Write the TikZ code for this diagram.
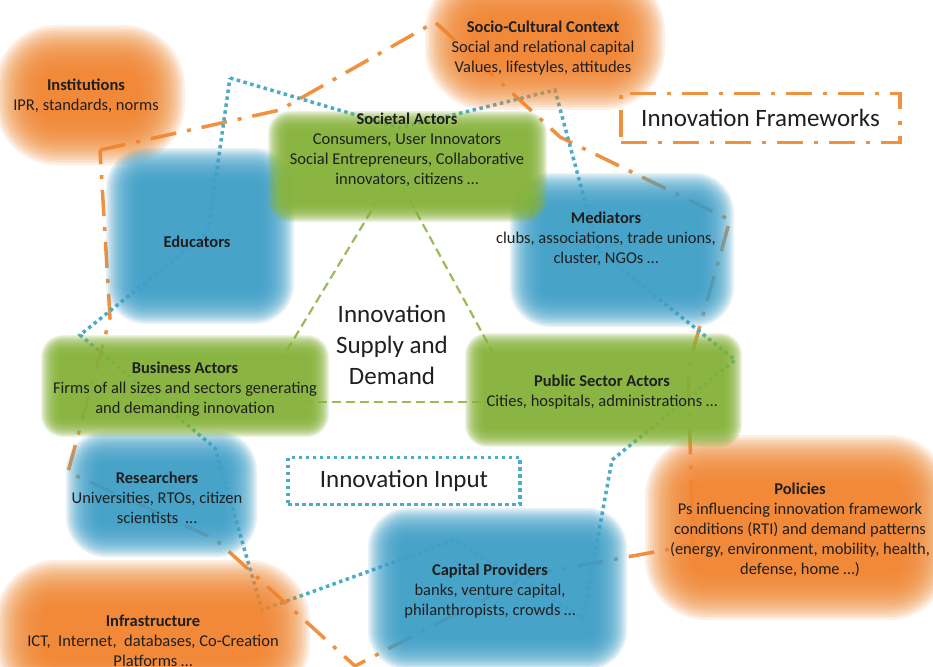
\documentclass[tikz,border=0pt]{standalone}
\usepackage{fontspec}
\setmainfont{Carlito}
\definecolor{FrameOrange}{HTML}{F0913F}
\definecolor{InputBlue}{HTML}{4BACC6}
\definecolor{DemandGreen}{HTML}{9BBB59}
\definecolor{BlobOrange}{HTML}{F18530}
\definecolor{BlobBlue}{HTML}{40A0C9}
\definecolor{BlobGreen}{HTML}{87B43A}
\definecolor{TextGrey}{HTML}{1F1F1F}
% soft blob: colour, step, x1, y1, x2, y2, rounding
\newcommand{\softblob}[7]{%
  \foreach \k in {0,...,19}{%
    \pgfmathsetmacro\rr{max(#7-#2*\k,2)}%
    \fill[#1, fill opacity=0.13, rounded corners=\rr pt]
      ({#3+#2*\k},{#4+#2*\k}) rectangle ({#5-#2*\k},{#6-#2*\k});
  }%
}
\begin{document}
\begin{tikzpicture}[x=1pt,y=-1pt,
    blobtext/.style={align=center, text=TextGrey, font=\fontsize{16.5}{20}\selectfont},
    bigtext/.style={align=center, text=TextGrey, font=\fontsize{25}{31}\selectfont},
    frameline/.style={FrameOrange, line width=3.5pt, dash pattern=on 26pt off 11pt on 4pt off 11pt},
    inputline/.style={InputBlue, line width=3.5pt, dash pattern=on 3.5pt off 3.5pt},
    demandline/.style={DemandGreen, line width=2.2pt, dash pattern=on 9pt off 5pt}]
    \clip (0,0) rectangle (933,666);
    \fill[white] (0,0) rectangle (933,666);
    % ends of the supply and demand triangle
    \coordinate (SocietalLeft)  at (393,175);
    \coordinate (SocietalRight) at (396,175);
    \coordinate (BusinessTop)   at (260,395);
    \coordinate (BusinessRight) at (290,402);
    \coordinate (PublicTop)     at (516,395);
    \coordinate (PublicLeft)    at (490,402);
    \draw [demandline] (SocietalLeft) -- (BusinessTop);% left side
    \draw [demandline] (SocietalRight) -- (PublicTop);% right side
    \draw [demandline] (BusinessRight) -- (PublicLeft);% bottom side
    % innovation frameworks
    \draw [frameline] (100,150) -- (280,110) -- (435,22) -- (560,137) -- (730,220) -- (688,368)
        -- (693,545) -- (533,574) -- (355,666) -- (215,539) -- (68,472) -- (110,318) -- cycle;
    % innovation input
    \draw [inputline] (230,78) -- (400,128) -- (555,90) -- (598,250) -- (735,360) -- (612,460)
        -- (583,618) -- (455,540) -- (262,610) -- (215,448) -- (80,335) -- (208,232) -- cycle;
    % blobs
    \softblob{BlobOrange}{2.5}{-5}{25}{185}{165}{62}% institutions
    \softblob{BlobOrange}{2.5}{425}{-30}{665}{110}{62}% socio-cultural
    \softblob{BlobOrange}{2.5}{645}{435}{950}{620}{62}% policies
    \softblob{BlobOrange}{2.5}{-5}{560}{310}{705}{62}% infrastructure
    \softblob{BlobBlue}{1.7}{106}{148}{294}{324}{40}% educators
    \softblob{BlobBlue}{1.7}{510}{173}{734}{327}{40}% mediators
    \softblob{BlobBlue}{1.7}{66}{431}{257}{557}{40}% researchers
    \softblob{BlobBlue}{1.7}{368}{508}{627}{670}{40}% capital providers
    \softblob{BlobGreen}{1}{268}{111}{547}{222}{22}% societal actors
    \softblob{BlobGreen}{1}{41}{335}{329}{437}{22}% business actors
    \softblob{BlobGreen}{1}{465}{333}{742}{447}{22}% public sector actors
    % texts
    \node [blobtext] (institutions) at (86,96) {\textbf{Institutions}\\IPR, standards, norms};
    \node [blobtext] (socio) at (543,48.5) {\textbf{Socio-Cultural Context}\\Social and relational capital\\Values, lifestyles, attitudes};
    \node [blobtext] (societal) at (407,150) {\textbf{Societal Actors}\\Consumers, User Innovators\\Social Entrepreneurs, Collaborative\\innovators, citizens …};
    \node [blobtext] (educators) at (197,242) {\textbf{Educators}};
    \node [blobtext] (mediators) at (606,239) {\textbf{Mediators}\\clubs, associations, trade unions,\\cluster, NGOs …};
    \node [blobtext] (business) at (185,389) {\textbf{Business Actors}\\Firms of all sizes and sectors generating\\and demanding innovation};
    \node [blobtext] (public) at (602,392) {\textbf{Public Sector Actors}\\Cities, hospitals, administrations …};
    \node [blobtext] (researchers) at (157,498) {\textbf{Researchers}\\Universities, RTOs, citizen\\scientists~ …};
    \node [blobtext] (capital) at (490,591) {\textbf{Capital Providers}\\banks, venture capital,\\philanthropists, crowds …};
    \node [blobtext] (policies) at (800,529.5) {\textbf{Policies}\\Ps influencing innovation framework\\conditions (RTI) and demand patterns\\(energy, environment, mobility, health,\\defense, home …)};
    \node [blobtext] (infrastructure) at (153,641) {\textbf{Infrastructure}\\ICT,~ Internet,~ databases, Co-Creation\\Platforms …};
    \node [bigtext] (supply) at (392,345) {Innovation\\Supply and\\Demand};
    \node [bigtext, draw=InputBlue, inputline, text=TextGrey, minimum width=232pt, minimum height=47pt] (input) at (404,481) {Innovation Input};
    \node [bigtext, draw=FrameOrange, frameline, text=TextGrey, minimum width=279pt, minimum height=49pt] (frameworks) at (760.5,118) {Innovation Frameworks};
\end{tikzpicture}
\end{document}
